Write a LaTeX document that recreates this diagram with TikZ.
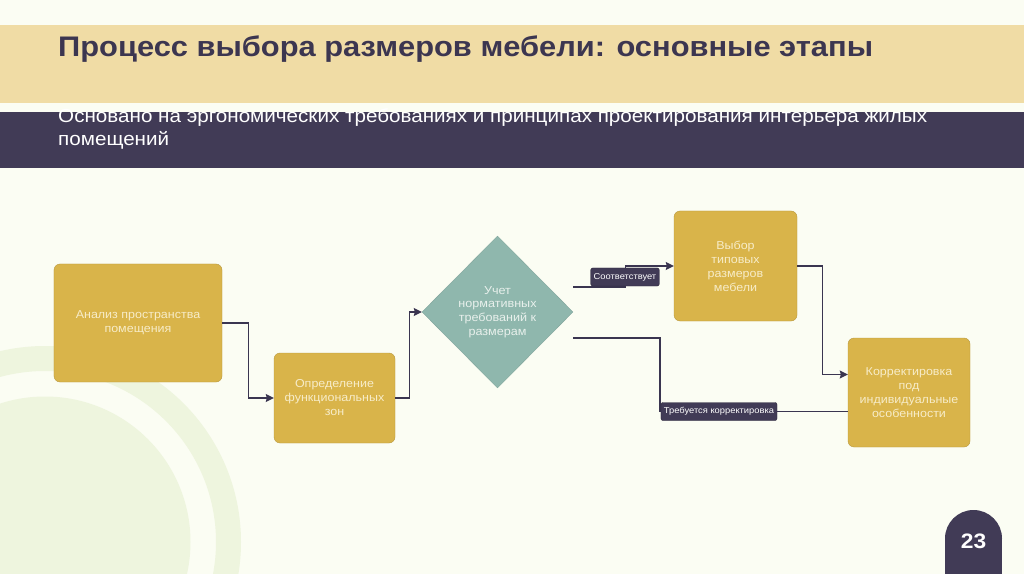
\documentclass[tikz,border=0pt]{standalone}
\usepackage{fontspec}
\setmainfont{Liberation Sans}[FakeStretch=1.09]
\usepackage{xcolor}
\usepackage{tikz}
\usetikzlibrary{shapes.geometric,arrows.meta}
\definecolor{slidebg}{RGB}{251,253,243}
\definecolor{bandtan}{RGB}{240,220,165}
\definecolor{bandplum}{RGB}{65,59,86}
\definecolor{titleplum}{RGB}{60,54,80}
\definecolor{boxgold}{RGB}{217,180,74}
\definecolor{boxtext}{RGB}{247,236,200}
\definecolor{sage}{RGB}{143,183,173}
\definecolor{sagetext}{RGB}{232,240,236}
\definecolor{circlegreen}{RGB}{238,245,222}
\definecolor{linedark}{RGB}{58,53,80}

\begin{document}
\begin{tikzpicture}[
    x=1bp, y=-1bp,
    stage/.style={rectangle, rounded corners=6bp, draw=boxgold!85!black, fill=boxgold, text=boxtext, align=center, inner sep=0pt, font=\fontsize{11.5}{14}\selectfont},
    decision/.style={diamond, draw=sage!90!black, fill=sage, text=sagetext, align=center, inner sep=0pt, minimum width=151bp, minimum height=152bp, font=\fontsize{11.6}{13.7}\selectfont},
    tag/.style={rectangle, rounded corners=2bp, fill=bandplum, draw=bandplum!70!black, text=white, inner xsep=3bp, inner ysep=0pt, minimum height=18bp, font=\fontsize{8.6}{10}\selectfont},
    arrow/.style={-{Stealth[length=8bp,width=8bp,inset=1bp]}, line width=1.4bp, linedark},
    link/.style={line width=1.4bp, linedark}
]
    \fill[slidebg] (0,0) rectangle (1024,574);
    \useasboundingbox (0,0) rectangle (1024,574);
    \begin{scope}
        \clip (0,0) rectangle (1024,574);
        \fill[circlegreen, even odd rule] (45,542) circle (196) (45,542) circle (171);
        \fill[circlegreen] (45,542) circle (145.5);
    \end{scope}
    \fill[bandtan] (0,25) rectangle (1024,103);
    \fill[bandplum] (0,112) rectangle (1024,168);
    \node[anchor=base west, inner sep=0pt, text=titleplum, font=\fontsize{28.4}{32}\selectfont\bfseries] (title) at (58,57) {Процесс выбора размеров мебели: основные этапы};
    \node[anchor=base west, inner sep=0pt, text=white, align=left, font=\fontsize{19}{23}\selectfont] (subtitle) at (58,145.5) {Основано на эргономических требованиях и принципах проектирования интерьера жилых\\помещений};

    \node[stage, minimum width=168bp, minimum height=118bp] (analysis) at (138,323) {Анализ пространства\\помещения};
    \node[stage, minimum width=121bp, minimum height=90bp] (zones) at (334.5,398) {Определение\\функциональных\\зон};
    \node[decision] (match) at (497.5,312) {Учет\\нормативных\\требований к\\размерам};
    \node[stage, minimum width=123bp, minimum height=110bp] (select) at (735.5,266) {Выбор\\типовых\\размеров\\мебели};
    \node[stage, minimum width=122bp, minimum height=109bp] (adjust) at (909,392.5) {Корректировка\\под\\индивидуальные\\особенности};

    \draw[arrow] (analysis.east) -- ++(26,0) |- (zones.west);
    \draw[arrow] (zones.east) -- ++(14,0) |- (match.west);
    \draw[arrow] ([yshift=25bp]match.east) -- ++(52,0) |- (select.west);
    \draw[link] ([yshift=-26bp]match.east) -| ([xshift=-188bp,yshift=-19bp]adjust.west) -- ([yshift=-19bp]adjust.west);
    \draw[arrow] (select.east) -- ++(25,0) |- ([yshift=18bp]adjust.west);
    \node[tag] (yes) at (625,277) {Соответствует};
    \node[tag] (no) at (719,411.5) {Требуется корректировка};

    \fill[bandplum] (973.5,538.5) circle (28.5);
    \fill[bandplum] (945,538.5) rectangle (1002,574);
    \node[text=white, font=\fontsize{21}{24}\selectfont\bfseries] (page) at (973.5,541) {23};
\end{tikzpicture}
\end{document}
